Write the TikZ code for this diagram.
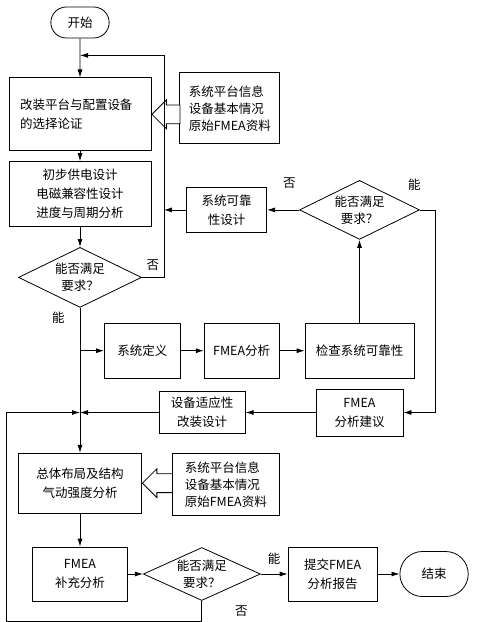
\documentclass[tikz,border=0pt]{standalone}
\usepackage{fontspec}
\setmainfont{Noto Sans CJK SC}
\usetikzlibrary{positioning,shapes.geometric,shapes.misc,shapes.arrows,arrows.meta}
\begin{document}
\begin{tikzpicture}[->, >={Latex[length=8pt,width=5pt]}, line width=0.8pt,
    box/.style={draw, align=center, inner sep=2pt},
    term/.style={rounded rectangle, draw, minimum width=65pt, minimum height=31pt},
    test/.style={diamond, draw, shape aspect=2.2, inner sep=0pt, align=center, font=\fontsize{12.5pt}{17pt}\selectfont},
    info/.style={box, align=left, font=\fontsize{12.5pt}{17pt}\selectfont},
    hollow/.style={single arrow, draw, fill=white, shape border rotate=180, inner xsep=0pt, inner ysep=9pt, single arrow head extend=5pt},
    lbl/.style={inner sep=1pt}]
        \tikzstyle{every node}=[font=\fontsize{12.5pt}{19pt}\selectfont]
        \useasboundingbox (0,0) rectangle (485pt,-622pt);

          % main column
          \node[term] (start) at (80pt,-22.5pt) {开始};
          \node[box, minimum width=142pt, minimum height=73pt, text width=120pt, align=left] (sel) [below=39pt of start] {改装平台与配置设备\\的选择论证};
          \node[box, minimum width=142pt, minimum height=65pt] (pwr) [below=10pt of sel] {初步供电设计\\电磁兼容性设计\\进度与周期分析};
          \node[test, minimum width=123pt, minimum height=60pt] (q1) [below=20pt of pwr] {能否满足\\要求？};
          \node[info, minimum width=100pt, minimum height=71pt] (info1) [below right=-5pt and 28pt of sel.north east] {系统平台信息\\设备基本情况\\原始FMEA资料};

          % reliability loop
          \node[box, minimum width=76pt, minimum height=55pt] (def) [below right=15pt and 24pt of q1.south] {系统定义};
          \node[box, minimum width=75pt, minimum height=55pt] (fa) [right=23pt of def] {FMEA分析};
          \node[box, minimum width=109pt, minimum height=55pt] (chk) [right=25pt of fa] {检查系统可靠性};
          \node[test, minimum width=120pt, minimum height=59pt] (q2) [above=83pt of chk] {能否满足\\要求？};
          \node[box, minimum width=80pt, minimum height=45pt] (rel) [left=32pt of q2] {系统可靠\\性设计};
          \node[box, minimum width=87pt, minimum height=47pt] (adv) [below=10pt of chk] {FMEA\\分析建议};
          \node[box, minimum width=86pt, minimum height=42pt] (adp) [left=70pt of adv] {设备适应性\\改装设计};

          % lower part
          \node[box, minimum width=123pt, minimum height=60pt] (lay) [below=145pt of q1] {总体布局及结构\\气动强度分析};
          \node[info, minimum width=107pt, minimum height=62pt] (info2) [below right=0pt and 30pt of lay.north east] {系统平台信息\\设备基本情况\\原始FMEA资料};
          \node[box, minimum width=95pt, minimum height=54pt] (sup) [below=33pt of lay] {FMEA\\补充分析};
          \node[test, minimum width=117pt, minimum height=53pt] (q3) [right=15pt of sup] {能否满足\\要求？};
          \node[box, minimum width=89pt, minimum height=54pt] (rep) [right=27pt of q3] {提交FMEA\\分析报告};
          \node[term, minimum width=75pt, minimum height=45pt] (stop) [right=22pt of rep] {结束};

          \node[hollow, minimum height=28pt, anchor=tip] (h1) at (sel.east) {};
          \node[hollow, minimum height=30pt, anchor=tip] (h2) at (lay.east) {};

          \coordinate[below=17pt of start.south] (j1);
          \coordinate[right=22pt of q1.east] (c1);
          \coordinate[right=15pt of q2.east] (c2);
          \coordinate[below=20pt of q3.south] (c3);
          \coordinate[left=2pt of sel.west] (c4);

          \path
            (start) edge (sel)
            (sel) edge (pwr)
            (pwr) edge (q1)
            (q1) edge node[lbl, pos=0.07, left=14pt] {能} (lay)
            (def) edge (fa)
            (fa) edge (chk)
            (chk) edge (q2)
            (q2) edge node[lbl, pos=0.3, above=20pt] {否} (rel)
            (adv) edge (adp)
            (lay) edge (sup)
            (sup) edge (q3)
            (q3) edge node[lbl, above=8pt] {能} (rep)
            (rep) edge (stop);

          \draw (q1.east) -- node[lbl, above=6pt] {否} (c1) |- (j1);
          \draw (rel) -- (rel -| c1);
          \draw (q1.south |- def) -- (def);
          \draw (q2.east) -- node[lbl, pos=0, above left=18pt and -2pt] {能} (c2) |- (adv);
          \draw (adp) -- (adp -| q1.south);
          \draw (q3.south) -- node[lbl, right=32pt] {否} (c3) -| (c4 |- adp) -- (adp -| q1.south);

        \end{tikzpicture}
\end{document}
